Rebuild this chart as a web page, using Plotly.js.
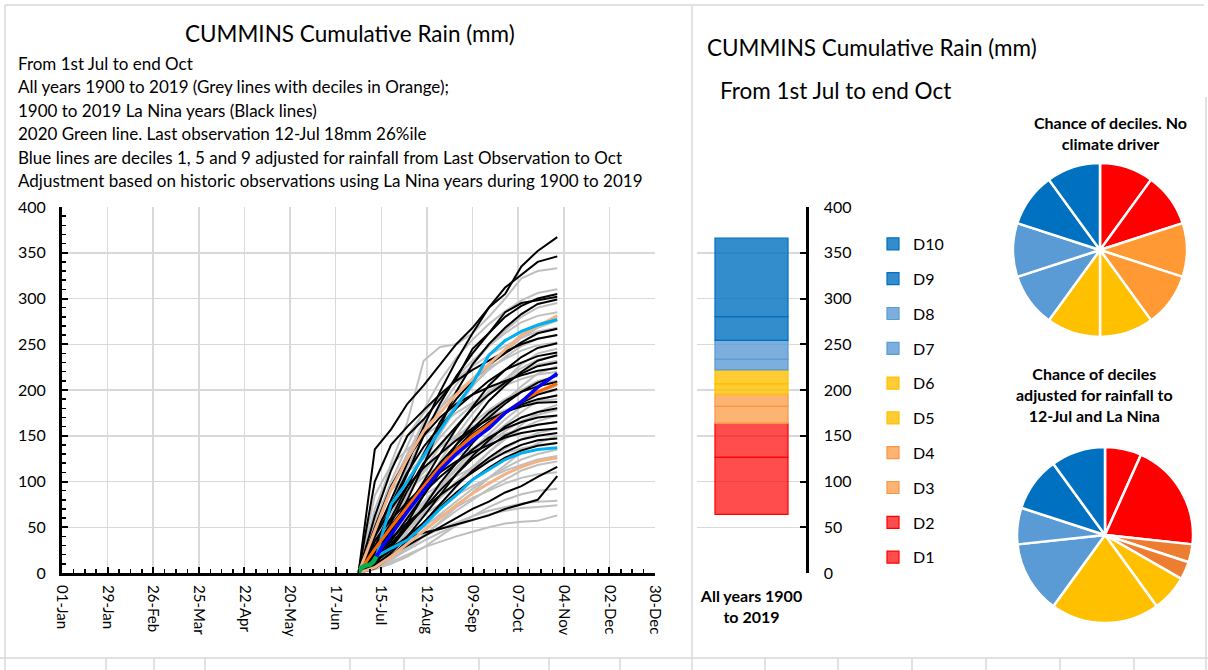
<!DOCTYPE html>
<html>
<head>
<meta charset="utf-8">
<script src="https://cdn.plot.ly/plotly-3.0.1.min.js"></script>
<style>html,body{margin:0;padding:0;background:#fff;}#chart{width:1208px;height:670px;}</style>
</head>
<body>
<div id="chart"></div>
<script>
// ---------- DATA ----------
const DATES = ['2020-07-01','2020-07-11','2020-07-21','2020-07-31','2020-08-10','2020-08-20','2020-08-30',
               '2020-09-09','2020-09-19','2020-09-29','2020-10-09','2020-10-19','2020-10-31'];

// All years 1900-2019 (grey lines), cumulative rain (mm) at DATES
const GREY_LINES = [
  [0,5,12,20,28,34,40,45,50,54,56,57,63],
  [0,8,16,25,35,44,52,58,64,68,71,72,74],
  [0,12,22,32,40,48,55,62,68,72,76,78,79],
  [0,4,10,18,28,40,52,62,72,80,86,90,92],
  [0,15,30,42,52,62,72,82,90,98,104,108,110],
  [0,6,15,28,42,55,68,80,92,102,112,118,122],
  [0,20,38,52,64,75,85,95,104,112,118,124,128],
  [0,10,22,36,50,64,78,92,104,115,124,130,135],
  [0,30,55,72,85,96,106,115,124,131,136,140,142],
  [0,5,14,26,40,56,72,88,104,118,132,142,150],
  [0,18,34,50,66,82,98,112,124,136,146,153,158],
  [0,40,70,90,105,118,128,136,144,152,158,162,165],
  [0,12,28,46,64,82,100,116,132,146,158,166,172],
  [0,22,42,60,78,96,112,128,142,155,166,173,178],
  [0,8,20,36,54,74,94,114,132,148,162,176,184],
  [0,55,90,110,125,138,150,160,170,178,184,188,190],
  [0,15,35,55,75,95,115,132,148,162,176,188,195],
  [0,28,52,75,96,115,132,148,162,175,186,195,200],
  [0,10,25,45,68,92,115,135,152,168,182,196,205],
  [0,35,62,88,110,130,148,164,178,190,200,206,210],
  [0,20,45,70,95,118,140,158,174,188,200,210,215],
  [0,85,118,135,150,162,175,186,196,205,212,217,220],
  [0,15,38,62,88,112,135,155,172,188,204,218,226],
  [0,42,75,102,126,148,168,184,198,210,220,228,232],
  [0,25,55,85,112,138,160,180,198,212,224,233,238],
  [0,12,35,62,92,122,150,174,195,212,228,240,245],
  [0,50,95,130,158,180,198,212,224,234,243,249,252],
  [0,30,65,100,132,160,185,205,222,236,248,256,260],
  [0,70,115,150,175,195,212,226,238,248,257,264,268],
  [0,20,50,85,120,152,180,204,225,242,257,268,276],
  [0,45,90,130,165,192,214,232,248,262,274,281,285],
  [0,35,75,115,150,180,206,228,248,265,280,290,295],
  [0,55,100,140,178,210,235,255,272,286,298,306,310],
  [0,60,120,165,232,247,250,262,280,300,322,330,333]
];

// La Nina years 1900-2019 (black lines)
const BLACK_LINES = [
  [0,135,157,185,205,228,250,268,290,305,335,352,367],
  [0,40,82,120,160,198,232,262,290,312,326,340,346],
  [0,28,70,108,150,185,215,240,262,280,292,300,305],
  [0,62,112,150,168,190,212,245,262,285,295,298,302],
  [0,20,45,80,118,160,198,228,250,268,283,294,299],
  [0,35,60,95,130,165,190,210,228,240,252,262,267],
  [0,100,140,160,178,195,210,222,232,242,250,256,260],
  [0,15,40,72,100,130,158,182,205,222,236,246,251],
  [0,45,75,110,138,160,180,195,210,222,230,237,241],
  [0,10,30,55,85,112,140,165,188,205,220,232,238],
  [0,25,55,90,120,140,160,180,195,208,218,226,230],
  [0,50,95,125,150,170,185,195,203,210,216,221,224],
  [0,18,35,60,85,110,135,155,170,185,198,208,216],
  [0,30,52,75,98,120,140,158,175,188,198,204,209],
  [0,12,28,50,72,98,120,142,160,175,186,195,201],
  [0,22,48,70,92,115,135,152,165,176,184,190,194],
  [0,40,70,95,115,130,145,158,168,176,182,186,187],
  [0,8,22,40,62,85,108,128,145,160,170,176,180],
  [0,28,50,70,88,105,120,135,148,158,165,170,172],
  [0,15,32,52,70,90,108,125,138,150,158,162,165],
  [0,35,58,78,95,110,122,132,140,148,153,156,158],
  [0,5,18,35,55,75,95,112,126,138,146,150,153],
  [0,20,38,55,70,85,98,110,122,132,140,145,147],
  [0,12,25,40,55,72,88,102,115,126,134,139,142],
  [0,10,20,30,40,50,60,70,78,88,95,105,116],
  [0,15,28,38,44,48,53,58,63,70,75,80,106]
];

// Deciles of all years (orange lines)
const DECILE1 = [0,6,18,32,46,61,74,87,98,108,116,122,126];
const DECILE5 = [0,26,50,73,95,116,134,150,163,176,188,198,207];
const DECILE9 = [0,45,92,125,155,175,195,212,228,243,260,270,281];

// Adjusted deciles from last observation (blue lines)
const ADJ_DATES = ['2020-07-12','2020-07-16','2020-07-21','2020-07-31','2020-08-10','2020-08-20','2020-08-30',
                   '2020-09-09','2020-09-19','2020-09-29','2020-10-09','2020-10-19','2020-10-31'];
const ADJ_D1 = [18,22,27,36,52,70,85,102,113,124,131,135,137];
const ADJ_D5 = [18,30,42,67,90,112,130,145,158,175,187,203,218];
const ADJ_D9 = [18,45,75,100,128,156,182,207,238,254,264,271,277];

// 2020 observations (green line)
const OBS_DATES = ['2020-07-01','2020-07-03','2020-07-05','2020-07-08','2020-07-10','2020-07-12'];
const OBS_2020 = [0,6,8,9,12,18];

// Decile boundaries of Oct-31 totals: min, then top of D1..D10
const DECILE_NAMES = ['D1','D2','D3','D4','D5','D6','D7','D8','D9','D10'];
const DECILE_BOUNDS = [64,126.5,163.6,182,195.3,206.6,221.9,233.6,254.3,280.2,366.1];
const BAR_CATEGORY = 'All years 1900 to 2019';

// Pie chart percentages
const PIE_NO_DRIVER = [10,10,10,10,10,10,10,10,10,10];
const PIE_ADJUSTED = [6.7,20,3.3,3.3,6.7,20,13.3,6.7,10,10];

// X axis tick labels (every 28 days)
const X_TICKS = ['2020-01-01','2020-01-29','2020-02-26','2020-03-25','2020-04-22','2020-05-20','2020-06-17',
                 '2020-07-15','2020-08-12','2020-09-09','2020-10-07','2020-11-04','2020-12-02','2020-12-30'];

// ---------- STYLE ----------
const FONT = 'Lato, "Open Sans", sans-serif';
const BAR_FILL = ['rgba(255,0,0,0.7)','rgba(255,0,0,0.7)','rgba(252,150,60,0.72)','rgba(252,150,60,0.72)',
                  'rgba(255,192,0,0.8)','rgba(255,192,0,0.8)','rgba(91,155,213,0.8)','rgba(91,155,213,0.8)',
                  'rgba(0,112,192,0.8)','rgba(0,112,192,0.8)'];
const BAR_LINE = ['#FF0000','#FF0000','#F79646','#F79646','#FFC000','#FFC000','#5B9BD5','#5B9BD5','#0070C0','#0070C0'];
const PIE1_COL = ['#FF0000','#FF0000','#FF9933','#FF9933','#FFC000','#FFC000','#5B9BD5','#5B9BD5','#0070C0','#0070C0'];
const PIE2_COL = ['#FF0000','#FF0000','#ED7D31','#ED7D31','#FFC000','#FFC000','#5B9BD5','#5B9BD5','#0070C0','#0070C0'];

const W = 1208, H = 670;
const px = v => v / W;
const py = v => (H - v) / H;

const traces = [];
function line(x, y, color, width) {
  traces.push({type:'scatter', mode:'lines', x:x, y:y, xaxis:'x', yaxis:'y',
    line:{color:color, width:width}, showlegend:false, hoverinfo:'skip'});
}
GREY_LINES.forEach(v => line(DATES, v, '#BFBFBF', 2));
BLACK_LINES.forEach(v => line(DATES, v, '#000000', 2));
line(DATES, DECILE1, '#F4B183', 3);
line(DATES, DECILE9, '#F4B183', 3);
line(ADJ_DATES, ADJ_D1, '#00B0F0', 3);
line(ADJ_DATES, ADJ_D9, '#00B0F0', 3);
line(DATES, DECILE5, '#FF6600', 3);
line(ADJ_DATES, ADJ_D5, '#0000FF', 3.5);
line(OBS_DATES, OBS_2020, '#00B050', 4.5);

for (let i = 0; i < DECILE_NAMES.length; i++) {
  traces.push({type:'bar', x:[BAR_CATEGORY], y:[DECILE_BOUNDS[i+1]-DECILE_BOUNDS[i]], base:[DECILE_BOUNDS[i]],
    name:DECILE_NAMES[i], legendgroup:'g'+i, legendrank:DECILE_NAMES.length - i, xaxis:'x2', yaxis:'y2', width:0.67,
    marker:{color:BAR_FILL[i], line:{color:BAR_LINE[i], width:1.2}}, hoverinfo:'skip'});
}

traces.push({type:'pie', values:PIE_NO_DRIVER, labels:DECILE_NAMES, sort:false, direction:'clockwise', rotation:0,
  marker:{colors:PIE1_COL, line:{color:'#FFFFFF', width:2.5}}, textinfo:'none', hoverinfo:'skip', showlegend:false,
  domain:{x:[px(1013), px(1187)], y:[py(337), py(163)]}});
traces.push({type:'pie', values:PIE_ADJUSTED, labels:DECILE_NAMES, sort:false, direction:'clockwise', rotation:0,
  marker:{colors:PIE2_COL, line:{color:'#FFFFFF', width:2.5}}, textinfo:'none', hoverinfo:'skip', showlegend:false,
  domain:{x:[px(1017), px(1193)], y:[py(623), py(447)]}});

const textLines = [
  ['From 1st Jul to end Oct', 63],
  ['All years 1900 to 2019 (Grey lines with deciles in Orange);', 87],
  ['1900 to 2019 La Nina years (Black lines)', 110],
  ['2020 Green line. Last observation 12-Jul 18mm 26%ile', 133],
  ['Blue lines are deciles 1, 5 and 9 adjusted for rainfall from Last Observation to Oct', 157],
  ['Adjustment based on historic observations using La Nina years during 1900 to 2019', 180]
];
const annotations = [
  {text:'CUMMINS Cumulative Rain (mm)', x:px(350), y:py(33), xref:'paper', yref:'paper', xanchor:'center', yanchor:'middle',
   showarrow:false, font:{size:22.5, color:'#000', family:FONT}},
  {text:'CUMMINS Cumulative Rain (mm)', x:px(705), y:py(48), xref:'paper', yref:'paper', xanchor:'left', yanchor:'middle',
   showarrow:false, font:{size:22.5, color:'#000', family:FONT}},
  {text:'From 1st Jul to end Oct', x:px(718), y:py(90), xref:'paper', yref:'paper', xanchor:'left', yanchor:'middle',
   showarrow:false, font:{size:22.5, color:'#000', family:FONT}},
  {text:'<b>Chance of deciles. No</b><br><b>climate driver</b>', x:px(1110), y:py(133), xref:'paper', yref:'paper',
   xanchor:'center', yanchor:'middle', showarrow:false, font:{size:16, color:'#000', family:FONT}},
  {text:'<b>Chance of deciles</b><br><b>adjusted for rainfall to</b><br><b>12-Jul and La Nina</b>', x:px(1094), y:py(394),
   xref:'paper', yref:'paper', xanchor:'center', yanchor:'middle', showarrow:false, font:{size:16, color:'#000', family:FONT}}
];
textLines.forEach(t => annotations.push({text:t[0], x:px(16), y:py(t[1]), xref:'paper', yref:'paper',
  xanchor:'left', yanchor:'middle', showarrow:false, font:{size:17, color:'#000', family:FONT}}));

const G = '#D9D9D9';
const shapes = [
  {type:'line', xref:'paper', yref:'paper', x0:px(5), x1:px(1204), y0:py(5), y1:py(5), line:{color:G, width:1.5}},
  {type:'line', xref:'paper', yref:'paper', x0:px(5), x1:px(5), y0:py(5), y1:py(670), line:{color:G, width:1.5}},
  {type:'line', xref:'paper', yref:'paper', x0:px(692), x1:px(692), y0:py(5), y1:py(670), line:{color:G, width:1.5}},
  {type:'line', xref:'paper', yref:'paper', x0:px(1206), x1:px(1206), y0:py(97), y1:py(670), line:{color:G, width:1.5}},
  {type:'line', xref:'paper', yref:'paper', x0:0, x1:1, y0:py(658), y1:py(658), line:{color:G, width:1.5}}
];
[106,154,205,350,404,479,549,620,765,838,912,986,1060,1134].forEach(x => shapes.push(
  {type:'line', xref:'paper', yref:'paper', x0:px(x), x1:px(x), y0:py(658), y1:py(670), line:{color:G, width:1.5}}));

const layout = {
  width:W, height:H, margin:{l:0, r:0, t:0, b:0}, paper_bgcolor:'#fff', plot_bgcolor:'rgba(0,0,0,0)',
  font:{family:FONT, color:'#000', size:15},
  barmode:'overlay', showlegend:true,
  xaxis:{domain:[px(62), px(655)], anchor:'y', type:'date', range:['2020-01-01','2020-12-30'],
    tickmode:'array', tickvals:X_TICKS, tickformat:'%d-%b', tickangle:90, ticks:'inside', ticklen:6, tickwidth:2,
    tickcolor:'#000', ticklabelstandoff:6, showline:true, linewidth:3, linecolor:'#000', showgrid:true, gridcolor:G, gridwidth:1.5,
    zeroline:false, tickfont:{size:15}, fixedrange:true,
    minor:{dtick:7*86400000, tick0:'2020-01-01', ticks:'inside', ticklen:4, tickwidth:1.5, tickcolor:'#000', showgrid:false}},
  yaxis:{domain:[py(573), py(207)], anchor:'x', range:[0,400], dtick:50, ticks:'inside', ticklen:6, tickwidth:2,
    tickcolor:'#000', ticklabelstandoff:10, showline:true, linewidth:3, linecolor:'#000', showgrid:true, gridcolor:G, gridwidth:1.5,
    zeroline:false, tickfont:{size:16}, fixedrange:true,
    minor:{dtick:10, ticks:'inside', ticklen:4, tickwidth:1.5, tickcolor:'#000', showgrid:false}},
  xaxis2:{domain:[px(697), px(806)], anchor:'y2', type:'category', showgrid:false, showline:false, ticks:'',
    ticklabelstandoff:12, tickvals:[BAR_CATEGORY], ticktext:['<b>All years 1900</b><br><b>to 2019</b>'],
    tickfont:{size:16}, fixedrange:true},
  yaxis2:{domain:[py(573), py(207)], anchor:'x2', side:'right', range:[0,400], dtick:50, ticks:'inside', ticklen:6,
    tickwidth:2, tickcolor:'#000', ticklabelstandoff:12, showline:true, linewidth:2.5, linecolor:'#000', showgrid:true,
    gridcolor:G, gridwidth:1.5, zeroline:false, tickfont:{size:16}, fixedrange:true},
  legend:{x:px(873), y:py(227), xanchor:'left', yanchor:'top', traceorder:'grouped', tracegroupgap:11,
    font:{size:16}, bgcolor:'rgba(0,0,0,0)', itemclick:false, itemdoubleclick:false},
  annotations:annotations, shapes:shapes
};

Plotly.newPlot('chart', traces, layout, {displayModeBar:false, staticPlot:true});
</script>
</body>
</html>
